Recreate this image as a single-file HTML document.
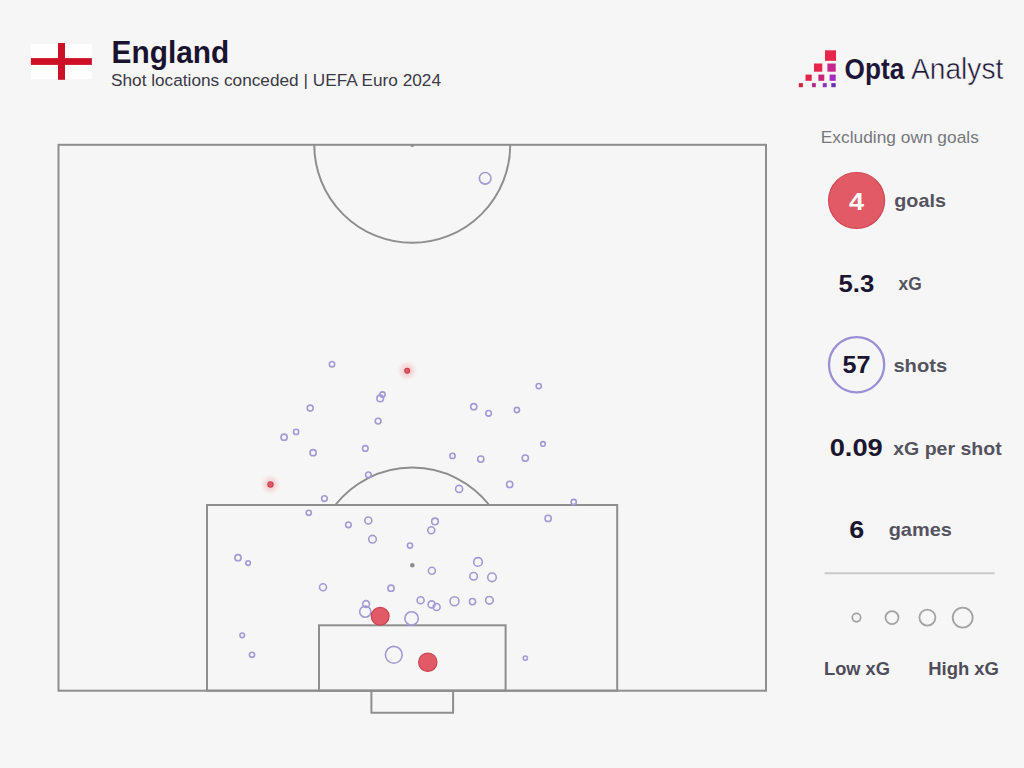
<!DOCTYPE html>
<html><head><meta charset="utf-8"><style>
html,body{margin:0;padding:0;background:#f6f6f6;}
body{width:1024px;height:768px;overflow:hidden;position:relative;font-family:"Liberation Sans",sans-serif;}
svg{position:absolute;left:0;top:0;}
</style></head><body>
<svg width="1024" height="768" viewBox="0 0 1024 768">
<defs>
<radialGradient id="glow"><stop offset="0" stop-color="#f3c3c7" stop-opacity="1"/><stop offset="0.45" stop-color="#f5d6d8" stop-opacity="0.9"/><stop offset="0.75" stop-color="#f6e6e7" stop-opacity="0.6"/><stop offset="1" stop-color="#f6f6f6" stop-opacity="0"/></radialGradient>
</defs>
<rect width="1024" height="768" fill="#f6f6f6"/>
<!-- flag -->
<rect x="30.9" y="43.8" width="61" height="35.4" fill="#fefefe"/>
<rect x="58" y="43" width="7" height="36.8" fill="#cc1126"/>
<rect x="30.9" y="58.1" width="61" height="6.8" fill="#cc1126"/>
<!-- title -->
<text x="111.6" y="63.3" font-family="Liberation Sans" font-weight="bold" font-size="31" fill="#1a1330" textLength="117.6" lengthAdjust="spacingAndGlyphs">England</text>
<text x="111" y="86.4" font-family="Liberation Sans" font-size="16.8" fill="#3b3945" textLength="330" lengthAdjust="spacingAndGlyphs">Shot locations conceded | UEFA Euro 2024</text>
<!-- logo -->
<g>
<rect x="825" y="50.3" width="11" height="10.5" fill="#e8264c"/>
<rect x="814" y="63.5" width="8.3" height="8.2" fill="#e6264a"/>
<rect x="827.4" y="63.5" width="8.3" height="8.2" fill="#c82590"/>
<rect x="805.5" y="74.6" width="6.2" height="6.2" fill="#e02646"/>
<rect x="818.4" y="74.6" width="5.9" height="6.2" fill="#c8247c"/>
<rect x="829.6" y="74.6" width="6.1" height="6.2" fill="#a52bc2"/>
<rect x="798.8" y="83.1" width="4.1" height="4.1" fill="#d0253f"/>
<rect x="812" y="83.1" width="3.8" height="4.1" fill="#b02a8a"/>
<rect x="822.8" y="83.1" width="3.9" height="4.1" fill="#8c30b8"/>
<rect x="831.3" y="83.1" width="4.4" height="4.1" fill="#6a30b8"/>
</g>
<text x="844.6" y="79.1" font-family="Liberation Sans" font-weight="bold" font-size="29" fill="#1e1636" textLength="59.6" lengthAdjust="spacingAndGlyphs">Opta</text>
<text x="911" y="79" font-family="Liberation Sans" font-size="29.5" fill="#1e1636" stroke="#f6f6f6" stroke-width="0.5" textLength="92.3" lengthAdjust="spacingAndGlyphs">Analyst</text>
<!-- pitch -->
<g fill="none" stroke="#8e8e8e" stroke-width="2">
<rect x="58.5" y="144.8" width="707.5" height="545.9000000000001"/>
<path d="M314.25 144.8 A98 98 0 0 0 510.25 144.8"/>
<rect x="207" y="505" width="410.2" height="185.70000000000005"/>
<rect x="319" y="625.3" width="186.6" height="65.40000000000009"/>
<path d="M371.4 690.7 V712.7 H453.1 V690.7"/>
<path d="M335.25 505 A98 98 0 0 1 489.25 505"/>
</g>
<path d="M410.05 144.8 A2.2 2.2 0 0 0 414.45 144.8 Z" fill="#8e8e8e"/>
<circle cx="412.3" cy="565.3" r="2.3" fill="#8e8e8e"/>
<g fill="none" stroke="#a19ad4" stroke-width="1.6">
<circle cx="485.2" cy="178.3" r="5.8"/>
<circle cx="332.0" cy="364.2" r="2.7"/>
<circle cx="382.5" cy="394.5" r="2.6"/>
<circle cx="380.2" cy="398.4" r="3.3"/>
<circle cx="310.2" cy="408.1" r="3.0"/>
<circle cx="378.1" cy="421.1" r="2.9"/>
<circle cx="296.1" cy="431.9" r="2.6"/>
<circle cx="284.1" cy="437.2" r="3.1"/>
<circle cx="313.1" cy="452.7" r="3.1"/>
<circle cx="365.3" cy="448.4" r="2.8"/>
<circle cx="538.75" cy="386.1" r="2.6"/>
<circle cx="473.75" cy="406.7" r="3.1"/>
<circle cx="488.6" cy="413.3" r="2.8"/>
<circle cx="516.9" cy="410" r="2.6"/>
<circle cx="543" cy="443.9" r="2.3"/>
<circle cx="452.5" cy="455.9" r="2.6"/>
<circle cx="480.8" cy="459.1" r="3.1"/>
<circle cx="525.3" cy="458.1" r="3.1"/>
<circle cx="368.4" cy="474.8" r="2.8"/>
<circle cx="324.4" cy="498.6" r="2.8"/>
<circle cx="308.75" cy="512.8" r="2.6"/>
<circle cx="348.4" cy="524.8" r="2.8"/>
<circle cx="368.3" cy="520.5" r="3.5"/>
<circle cx="372.5" cy="539.2" r="3.8"/>
<circle cx="238" cy="557.7" r="3.1"/>
<circle cx="248.1" cy="563.1" r="2.3"/>
<circle cx="459.1" cy="488.9" r="3.5"/>
<circle cx="509.7" cy="484.4" r="3.1"/>
<circle cx="435" cy="521.4" r="3.3"/>
<circle cx="431.25" cy="530.3" r="3.5"/>
<circle cx="410" cy="545.6" r="2.6"/>
<circle cx="573.75" cy="502" r="2.6"/>
<circle cx="548.1" cy="518.4" r="3.1"/>
<circle cx="323" cy="587.2" r="3.5"/>
<circle cx="366.1" cy="604.0" r="3.4"/>
<circle cx="365.3" cy="611.7" r="5.6"/>
<circle cx="242.2" cy="635.3" r="2.3"/>
<circle cx="252" cy="654.8" r="2.6"/>
<circle cx="431.9" cy="570.8" r="3.5"/>
<circle cx="478" cy="561.9" r="4.3"/>
<circle cx="473.6" cy="576.25" r="3.8"/>
<circle cx="492" cy="577.3" r="4.3"/>
<circle cx="391" cy="588.2" r="3.1"/>
<circle cx="420.6" cy="600.2" r="3.5"/>
<circle cx="431.6" cy="604.4" r="3.5"/>
<circle cx="436.6" cy="607" r="3.5"/>
<circle cx="454.5" cy="601.25" r="4.5"/>
<circle cx="472.5" cy="601.6" r="3.1"/>
<circle cx="489.4" cy="600.3" r="3.8"/>
<circle cx="411.6" cy="618.4" r="6.7"/>
<circle cx="393.8" cy="654.8" r="8.4"/>
<circle cx="525.3" cy="658.1" r="2.1"/>
</g>
<g fill="#e15a65" stroke="#cc4350" stroke-width="1.2">
<circle cx="407.2" cy="370.7" r="11" fill="url(#glow)" stroke="none"/>
<circle cx="407.2" cy="370.7" r="2.4"/>
<circle cx="270.5" cy="484.5" r="11" fill="url(#glow)" stroke="none"/>
<circle cx="270.5" cy="484.5" r="2.6"/>
<circle cx="380.2" cy="616.3" r="8.9"/>
<circle cx="427.8" cy="662.2" r="9.2"/>

</g>
<!-- right panel -->
<text x="820.8" y="143.3" font-family="Liberation Sans" font-size="16.6" fill="#78787e" textLength="158" lengthAdjust="spacingAndGlyphs">Excluding own goals</text>
<circle cx="856.6" cy="200.5" r="28" fill="#e15a65" stroke="#cf4853" stroke-width="1.2"/>
<text x="856.5" y="209.6" text-anchor="middle" font-family="Liberation Sans" font-weight="bold" font-size="24" fill="#ffffff" textLength="15" lengthAdjust="spacingAndGlyphs">4</text>
<text x="894.3" y="206.7" font-family="Liberation Sans" font-weight="bold" font-size="19" fill="#55535f" textLength="51.6" lengthAdjust="spacingAndGlyphs">goals</text>
<text x="838.6" y="291.5" font-family="Liberation Sans" font-weight="bold" font-size="23" fill="#1b1530" textLength="35.7" lengthAdjust="spacingAndGlyphs">5.3</text>
<text x="898.6" y="289.9" font-family="Liberation Sans" font-weight="bold" font-size="18" fill="#55535f" textLength="23.2" lengthAdjust="spacingAndGlyphs">xG</text>
<circle cx="856.6" cy="364.7" r="27.6" fill="none" stroke="#9d8fd6" stroke-width="2.3"/>
<text x="842.4" y="373.3" font-family="Liberation Sans" font-weight="bold" font-size="23.5" fill="#1b1530" textLength="28" lengthAdjust="spacingAndGlyphs">57</text>
<text x="893.4" y="371.8" font-family="Liberation Sans" font-weight="bold" font-size="19" fill="#55535f" textLength="53.8" lengthAdjust="spacingAndGlyphs">shots</text>
<text x="829.7" y="456" font-family="Liberation Sans" font-weight="bold" font-size="23" fill="#1b1530" textLength="53.1" lengthAdjust="spacingAndGlyphs">0.09</text>
<text x="893.2" y="454.5" font-family="Liberation Sans" font-weight="bold" font-size="19" fill="#55535f" textLength="108.5" lengthAdjust="spacingAndGlyphs">xG per shot</text>
<text x="849.3" y="537.5" font-family="Liberation Sans" font-weight="bold" font-size="23" fill="#1b1530" textLength="15" lengthAdjust="spacingAndGlyphs">6</text>
<text x="888.7" y="535.9" font-family="Liberation Sans" font-weight="bold" font-size="19" fill="#55535f" textLength="63.2" lengthAdjust="spacingAndGlyphs">games</text>
<line x1="824.6" y1="573.3" x2="994.6" y2="573.3" stroke="#c9c9c9" stroke-width="2"/>
<g fill="none" stroke="#a3a3a3" stroke-width="1.8">
<circle cx="856.5" cy="617.6" r="4.2"/>
<circle cx="892" cy="617.6" r="6.5"/>
<circle cx="927.4" cy="617.6" r="8"/>
<circle cx="962.7" cy="617.6" r="10"/>
</g>
<text x="824" y="675.2" font-family="Liberation Sans" font-weight="bold" font-size="18" fill="#4f4d5a" textLength="66" lengthAdjust="spacingAndGlyphs">Low xG</text>
<text x="928.2" y="675.2" font-family="Liberation Sans" font-weight="bold" font-size="18" fill="#4f4d5a" textLength="70.8" lengthAdjust="spacingAndGlyphs">High xG</text>
</svg>
</body></html>
